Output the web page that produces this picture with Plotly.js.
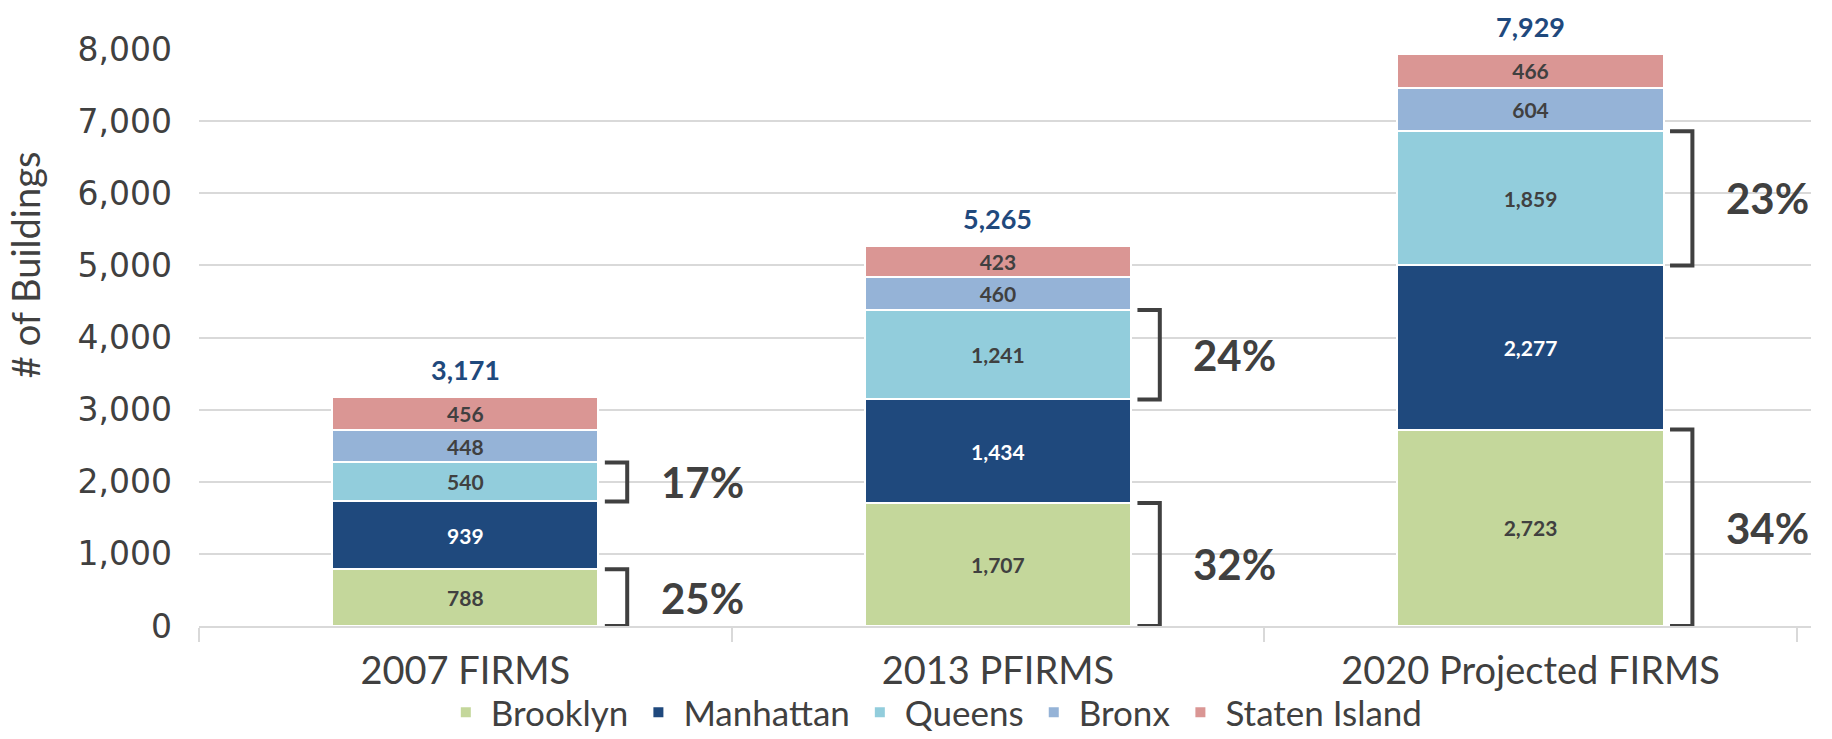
<!DOCTYPE html>
<html>
<head>
<meta charset="utf-8">
<script src="https://cdn.plot.ly/plotly-3.0.1.min.js"></script>
<style>html,body{margin:0;padding:0;background:#fff;}#chart{width:1832px;height:739px;}</style>
</head>
<body>
<div id="chart"></div>
<script>
// ---- data ----
const categories = ['2007 FIRMS', '2013 PFIRMS', '2020 Projected FIRMS'];
const brooklyn = [788, 1707, 2723];
const manhattan = [939, 1434, 2277];
const queens = [540, 1241, 1859];
const bronx = [448, 460, 604];
const statenIsland = [456, 423, 466];
const totals = [3171, 5265, 7929];
const brooklynShare = ['25%', '32%', '34%'];
const queensShare = ['17%', '24%', '23%'];
const yTicks = [0, 1000, 2000, 3000, 4000, 5000, 6000, 7000, 8000];
const yTitle = '# of Buildings';

// ---- style ----
const colors = {
  Brooklyn: '#c4d79b',
  Manhattan: '#1f497d',
  Queens: '#92cddc',
  Bronx: '#95b3d7',
  'Staten Island': '#da9694'
};
const dark = '#404040';
const fmt = v => v.toLocaleString('en-US');

const seriesList = [
  ['Brooklyn', brooklyn, dark],
  ['Manhattan', manhattan, '#ffffff'],
  ['Queens', queens, dark],
  ['Bronx', bronx, dark],
  ['Staten Island', statenIsland, dark]
];

const traces = seriesList.map(([name, vals, tc]) => ({
  type: 'bar',
  name: name,
  x: categories,
  y: vals,
  text: vals.map(fmt),
  textposition: 'inside',
  insidetextanchor: 'middle',
  constraintext: 'none',
  textangle: 0,
  textfont: {family: 'Lato', size: 21, color: tc, weight: 'bold'},
  marker: {color: colors[name], line: {color: '#ffffff', width: 2}},
  hoverinfo: 'skip'
}));

// brackets + percentages
const shapes = [];
const annotations = [];
const tipOff = 0.262, vertOff = 0.304, pctOff = 0.445;
function bracket(i, lo, hi, label) {
  const xt = i + tipOff, xv = i + vertOff;
  shapes.push({
    type: 'path', xref: 'x', yref: 'y',
    path: `M ${xt},${hi} L ${xv},${hi} L ${xv},${lo} L ${xt},${lo}`,
    line: {color: dark, width: 4}
  });
  annotations.push({
    x: i + pctOff, y: (lo + hi) / 2, xref: 'x', yref: 'y',
    text: label, showarrow: false, xanchor: 'center', yanchor: 'middle',
    font: {family: 'Lato', size: 42, color: dark, weight: 'bold'}
  });
}
categories.forEach((c, i) => {
  bracket(i, 0, brooklyn[i], brooklynShare[i]);
  const qLo = brooklyn[i] + manhattan[i];
  bracket(i, qLo, qLo + queens[i], queensShare[i]);
  annotations.push({
    x: c, y: totals[i], xref: 'x', yref: 'y', text: fmt(totals[i]),
    showarrow: false, yanchor: 'middle', yshift: 28,
    font: {family: 'Lato', size: 27, color: '#1f497d', weight: 'bold'}
  });
});
// y-axis title (placed like the reference: above the plot's middle)
annotations.push({
  xref: 'paper', yref: 'paper', x: -0.108, y: 0.627,
  text: yTitle, textangle: -90, showarrow: false,
  xanchor: 'center', yanchor: 'middle',
  font: {family: 'Lato', size: 38, color: dark}
});

const layout = {
  width: 1832, height: 739,
  margin: {l: 199, r: 21, t: 49, b: 113},
  paper_bgcolor: '#ffffff', plot_bgcolor: '#ffffff',
  barmode: 'stack',
  bargap: 0.5,
  font: {family: 'Lato', color: dark},
  showlegend: true,
  legend: {
    orientation: 'h', xref: 'container', yref: 'container',
    x: 0.51, xanchor: 'center', y: 0.036, yanchor: 'middle',
    bgcolor: 'rgba(0,0,0,0)',
    font: {family: 'Lato', size: 35, color: dark},
    itemwidth: 40,
    traceorder: 'normal'
  },
  xaxis: {
    type: 'category',
    tickson: 'boundaries', ticks: 'outside', ticklen: 14, tickwidth: 2, tickcolor: '#d9d9d9',
    showline: true, linecolor: '#d9d9d9', linewidth: 2,
    tickfont: {family: 'Lato', size: 38, color: dark},
    ticklabelstandoff: 10,
    showgrid: false, zeroline: false, fixedrange: true
  },
  yaxis: {
    range: [0, 8000],
    tickvals: yTicks, ticktext: yTicks.map(fmt),
    showgrid: true, gridcolor: '#d9d9d9', gridwidth: 2,
    zeroline: false, showline: false, ticks: '',
    tickfont: {family: 'DejaVu Sans', size: 33, color: dark},
    ticklabelstandoff: 26,
    fixedrange: true
  },
  shapes: shapes,
  annotations: annotations
};

Plotly.newPlot('chart', traces, layout, {displayModeBar: false, staticPlot: true});
</script>
</body>
</html>
